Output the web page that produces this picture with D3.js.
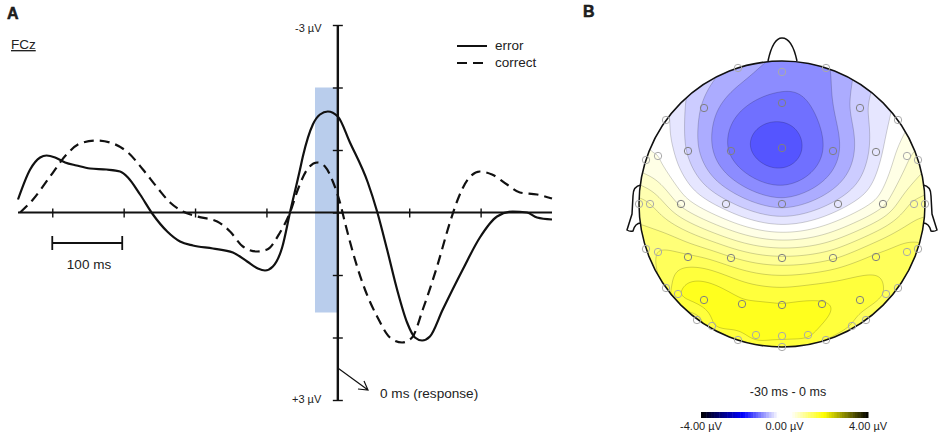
<!DOCTYPE html>
<html><head><meta charset="utf-8">
<script src="https://cdn.jsdelivr.net/npm/d3@7"></script>
<style>html,body{margin:0;padding:0;background:#fff}svg{display:block}text{font-family:"Liberation Sans",Arial,sans-serif;fill:#222}</style>
</head><body><svg id="c" width="940" height="436"></svg>
<script>
// ERP waveforms: time (ms) relative to response, amplitude (µV, negative up)
const errorTime=[-448,-431,-417,-408,-396,-382,-366,-347,-324,-305,-294,-277,-259,-239,-221,-203,-175,-147,-127,-112,-102,-91,-78,-67,-53,-49,-35,-25,-14,0,17,42,55,69,83,97,108,118,129,147,175,199,223,245,265,279,300];
const errorAmp=[-.208,-.688,-.88,-.912,-.88,-.8,-.752,-.704,-.688,-.656,-.56,-.288,.032,.304,.464,.528,.576,.64,.784,.896,.928,.864,.56,0,-.688,-.896,-1.408,-1.568,-1.616,-1.536,-1.12,-.48,-.016,.592,1.232,1.76,2,2.048,1.984,1.552,.912,.4,.064,-.016,0,.08,.112];
const correctTime=[-445,-427,-403,-380,-361,-338,-315,-294,-273,-253,-235,-217,-197,-169,-151,-133,-113,-99,-81,-67,-56,-43,-29,-18,-7,3,10,24,38,55,73,90,104,119,139,157,168,182,199,216,237,255,279,300];
const correctAmp=[0,-.208,-.576,-.928,-1.104,-1.152,-1.104,-.96,-.688,-.4,-.16,-.016,.064,.144,.304,.544,.624,.592,.32,0,-.368,-.688,-.8,-.736,-.496,-.16,.16,.752,1.232,1.664,2,2.08,2,1.552,.864,.16,-.208,-.528,-.656,-.608,-.448,-.32,-.288,-.224];
const timeTicks=[-400,-300,-200,-100,0,100,200];
const ampTicks=[-3,-2,-1,0,1,2,3];
const seriesNames=["error","correct"];
const electrodeX=[-44,0,44,-78,0,78,-116,116,-136,-124,-94,-51,0,51,94,125,136,-143,-132,-101,-56,0,56,101,132,143,-136,-124,-94,-51,0,51,94,125,136,-116,-104,-78,-40,0,40,78,104,116,-85,-70,-44,-26,0,26,44,70,84,0];
const electrodeY=[-136,-132,-136,-96,-101,-96,-84,-84,-44,-48,-53,-53,-56,-53,-52,-48,-44,0,0,0,0,0,0,0,0,0,45,48,53,54,54,54,53,48,45,84,90,96,100,101,100,96,90,84,116,122,136,131,132,131,136,122,116,143];
const electrodeAmp=[-.6,-.88,-.78,-.55,-1.08,-.35,.05,.1,.3,.25,-.28,-1.03,-1.38,-.85,-.12,.45,.6,1.1,1,.45,-.15,-.6,-.15,.45,1.05,1.1,1.35,1.5,1.55,1.28,1.05,1.22,1.55,1.6,1.55,1.6,1.95,2.1,2.05,2.02,2.02,1.88,1.72,1.6,1.65,1.95,1.85,2.08,2.08,2.03,1.75,1.72,1.6,1.8];
const scalpLevels=[-1.25,-1,-.75,-.5,-.25,0,.25,.5,.75,1,1.25,1.5,1.75,2];
const bandColors=["#5555ff","#7070ff","#8c8cff","#acacff","#ccccff","#e6e6ff","#ffffff","#ffffe6","#ffffcc","#ffffb0","#ffff96","#ffff78","#ffff5a","#ffff3c","#ffff1e"];
const barStops=[-4,-2,-.3,.3,1.9,4];
const barColors=["#000000","#0000ff","#ffffff","#ffffff","#ffff00","#000000"];
const barTicks=[-4,0,4];

const svg=d3.select("#c");
const x=d3.scaleLinear().domain([-448,300]).range([18,552]);
const y=d3.scaleLinear().domain([-3,3]).range([25,400]);
const T=(s,px,py,size,anchor,w)=>svg.append("text").attr("x",px).attr("y",py).attr("font-size",size).attr("text-anchor",anchor||"start").attr("font-weight",w||400).text(s);

svg.append("rect").attr("x",x(-32)).attr("width",x(0)-x(-32)).attr("y",y(-2)).attr("height",y(1.6)-y(-2)).attr("fill","#b9cdec");

const xg=svg.append("g").attr("transform",`translate(0,${y(0)-4})`).call(d3.axisBottom(x).tickValues(timeTicks).tickSize(9).tickFormat(""));
xg.select(".domain").remove();
xg.selectAll("line").attr("stroke","#111").attr("stroke-width",1.4);
svg.append("line").attr("x1",x(-448)).attr("x2",x(300)).attr("y1",y(0)).attr("y2",y(0)).attr("stroke","#111").attr("stroke-width",2.2);
const yg=svg.append("g").attr("transform",`translate(${x(0)+5},0)`).call(d3.axisLeft(y).tickValues(ampTicks).tickSize(10).tickFormat(""));
yg.select(".domain").remove();
yg.selectAll("line").attr("stroke","#111").attr("stroke-width",1.4);
svg.append("line").attr("x1",x(0)).attr("x2",x(0)).attr("y1",y(-3)).attr("y2",y(3)).attr("stroke","#111").attr("stroke-width",2.4);

const line=d3.line().x(d=>x(d[0])).y(d=>y(d[1])).curve(d3.curveMonotoneX);
const draw=(t,a,dash)=>svg.append("path").attr("d",line(d3.zip(t,a))).attr("fill","none").attr("stroke","#111").attr("stroke-width",2.2).attr("stroke-dasharray",dash);
draw(correctTime,correctAmp,"10 6");
draw(errorTime,errorAmp,null);

[[46,null],[63,"10 6"]].forEach((d,i)=>{
  svg.append("line").attr("x1",457).attr("x2",487).attr("y1",d[0]).attr("y2",d[0]).attr("stroke","#111").attr("stroke-width",2).attr("stroke-dasharray",d[1]);
  T(seriesNames[i],495,d[0]+4,13.5);
});
T("A",7,19,16,"start",700).attr("stroke","#111").attr("stroke-width",.5);
T("B",583,17,16,"start",700).attr("stroke","#111").attr("stroke-width",.5);
T("FCz",11,49,13.5).attr("text-decoration","underline");
T("-3 µV",295,32,11);
T("+3 µV",292,403,11);
T("100 ms",89,269,13.5,"middle");
T("0 ms (response)",380,398,13.6);

const bar=svg.append("g").attr("stroke","#111").attr("fill","none").attr("stroke-width",1.8);
bar.append("path").attr("d",`M${x(-400)},236V250M${x(-400)},243H${x(-302)}M${x(-302)},236V250`);
svg.append("path").attr("d",`M${x(0)},368L368,390M358,389L368,390L364,381`).attr("fill","none").attr("stroke","#111").attr("stroke-width",1.2);

// Scalp map: thin-plate spline through the electrode amplitudes, then d3.contours
const cx=782,cy=204,R=143;
const hx=d3.scaleLinear().domain([-143,143]).range([cx-R,cx+R]);
const hy=d3.scaleLinear().domain([-143,143]).range([cy-R,cy+R]);
const N=electrodeX.length;
const phi=r2=>r2>0?r2*Math.log(r2)/2:0;
const A=[];
for(let i=0;i<N;i++){const row=[];
  for(let j=0;j<N;j++){const dx=(electrodeX[i]-electrodeX[j])/143,dy=(electrodeY[i]-electrodeY[j])/143;row.push(phi(dx*dx+dy*dy));}
  row.push(1,electrodeX[i]/143,electrodeY[i]/143,electrodeAmp[i]);A.push(row);}
for(let k=0;k<3;k++){const row=new Array(N+4).fill(0);
  for(let j=0;j<N;j++)row[j]=k==0?1:k==1?electrodeX[j]/143:electrodeY[j]/143;A.push(row);}
const M=N+3;
for(let c=0;c<M;c++){let p=c;for(let r=c+1;r<M;r++)if(Math.abs(A[r][c])>Math.abs(A[p][c]))p=r;
  [A[c],A[p]]=[A[p],A[c]];
  for(let r=0;r<M;r++)if(r!=c){const f=A[r][c]/A[c][c];if(f)for(let k=c;k<=M;k++)A[r][k]-=f*A[c][k];}}
const w=A.map((r,i)=>r[M]/r[i]);
const S=2,W=Math.ceil(2*R/S)+5,H=W,ox=cx-R-4,oy=cy-R-4,field=new Array(W*H);
for(let j=0;j<H;j++)for(let i=0;i<W;i++){
  const u=(ox+i*S-cx)/143,v=(oy+j*S-cy)/143;let s=w[N]+w[N+1]*u+w[N+2]*v;
  for(let k=0;k<N;k++){const dx=u-electrodeX[k]/143,dy=v-electrodeY[k]/143;s+=w[k]*phi(dx*dx+dy*dy);}
  field[j*W+i]=s;
}
svg.append("defs").append("clipPath").attr("id","head").append("circle").attr("cx",cx).attr("cy",cy).attr("r",R);
const g=svg.append("g").attr("clip-path","url(#head)");
const contours=d3.contours().size([W,H]).smooth(true).thresholds(scalpLevels)(field);
const proj=d3.geoTransform({point(px,py){this.stream.point(ox+(px-.5)*S,oy+(py-.5)*S);}});
const path=d3.geoPath(proj);
g.append("rect").attr("x",cx-R).attr("y",cy-R).attr("width",2*R).attr("height",2*R).attr("fill",bandColors[0]);
g.selectAll("path.band").data(contours).join("path").attr("class","band").attr("d",path)
  .attr("fill",(d,i)=>bandColors[i+1]).attr("stroke","#000").attr("stroke-opacity",.18).attr("stroke-width",1);

// Head outline
const outline=svg.append("g").attr("fill","none").attr("stroke","#111").attr("stroke-width",1.5);
const nose=d3.path();nose.moveTo(hx(-14),hy(-143));nose.bezierCurveTo(hx(-11),hy(-157),hx(-6),hy(-166),hx(0),hy(-166));nose.bezierCurveTo(hx(7),hy(-166),hx(12),hy(-157),hx(15),hy(-143));
outline.append("path").attr("d",nose.toString());
[1,-1].forEach(s=>{
  const e=d3.path(),X=v=>hx(s*v);
  e.moveTo(X(141),hy(-19));e.quadraticCurveTo(X(149),hy(-18),X(149),hy(-8));e.lineTo(X(150),hy(10));e.lineTo(X(155),hy(26));e.quadraticCurveTo(X(152),hy(28),X(149),hy(27));e.quadraticCurveTo(X(147),hy(19),X(141),hy(19));
  outline.append("path").attr("d",e.toString());
});
outline.append("circle").attr("cx",cx).attr("cy",cy).attr("r",R);

svg.append("g").selectAll("circle").data(d3.zip(electrodeX,electrodeY)).join("circle")
  .attr("cx",d=>hx(d[0])).attr("cy",d=>hy(d[1])).attr("r",3.7).attr("fill","none")
  .attr("stroke",d=>Math.hypot(d[0],d[1])>=126?"#aaa":"#808080").attr("stroke-width",1);

const bx=d3.scaleLinear().domain([-4,4]).range([701,868]);
const bc=d3.scaleLinear().domain(barStops).range(barColors);
const steps=d3.range(-4,4,8/64);
svg.append("g").selectAll("rect").data(steps).join("rect").attr("x",d=>bx(d)).attr("y",412).attr("width",bx(8/64)-bx(0)+.5).attr("height",6).attr("fill",d=>bc(d+4/64));
barTicks.forEach(v=>T(v.toFixed(2)+" µV",bx(v),430,11,"middle"));
T("-30 ms - 0 ms",788,396,12.5,"middle");
</script></body></html>
